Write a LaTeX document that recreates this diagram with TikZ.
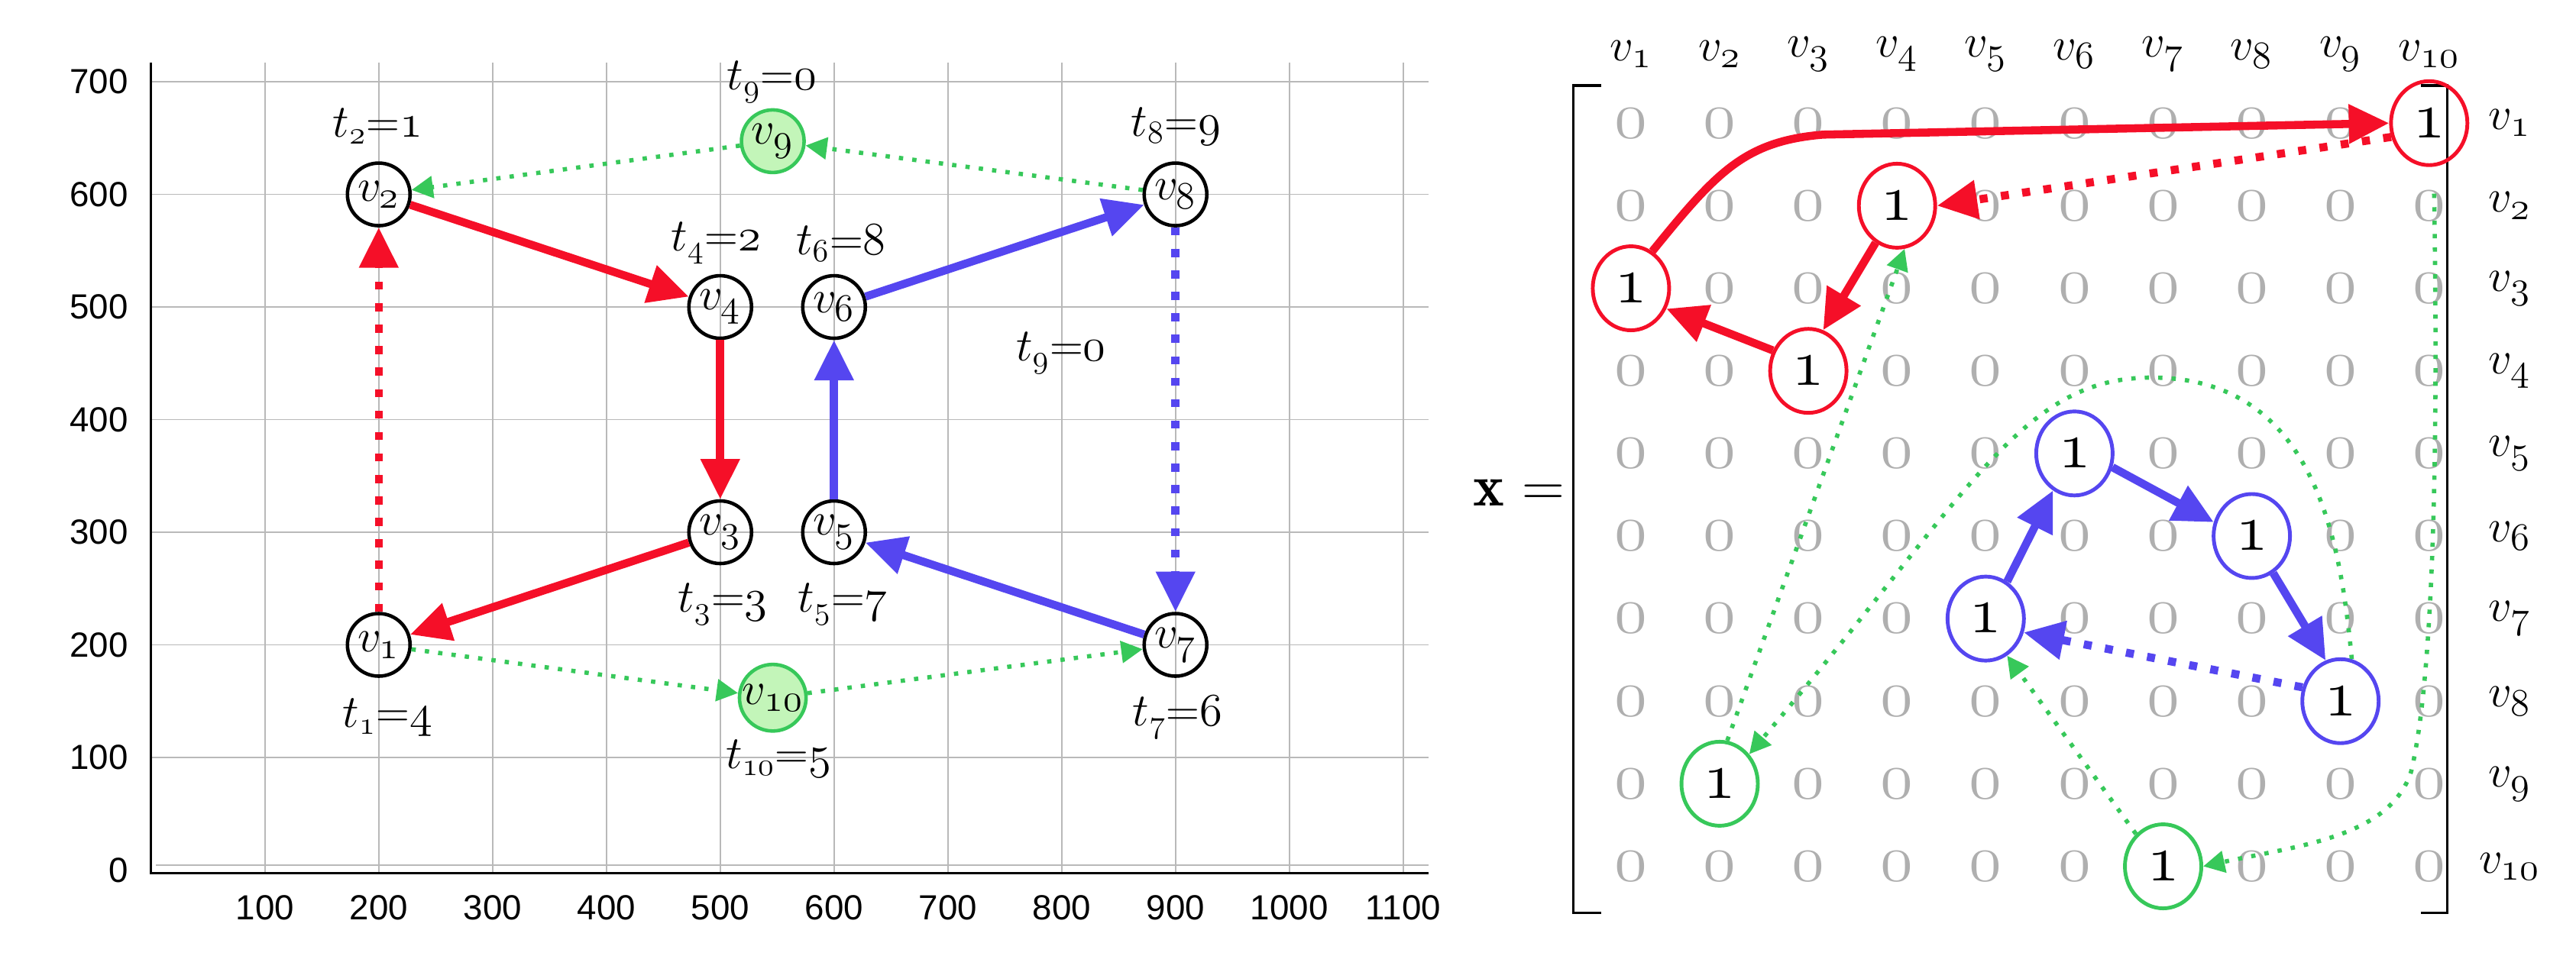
\documentclass[tikz,border=0pt]{standalone}
\usepackage{fontspec}
\newfontfamily\tickfont{Liberation Sans}
\usetikzlibrary{arrows.meta,shapes.geometric}
\definecolor{cred}{RGB}{245,15,40}
\definecolor{cblue}{RGB}{85,70,240}
\definecolor{cgreen}{RGB}{55,200,90}
\definecolor{lgreen}{RGB}{195,245,185}
\definecolor{zgray}{RGB}{175,175,175}
\newcommand\osn[1]{\ensuremath{\mathnormal{#1}}}
\begin{document}
\begin{tikzpicture}[x=0.0215cm,y=-0.0215cm,
  vnode/.style={circle,draw=black,line width=1.3pt,minimum size=0.82cm,inner sep=0pt,font=\fontsize{19}{22}\selectfont},
  gnode/.style={vnode,draw=cgreen,fill=lgreen},
  tlab/.style={font=\fontsize{17}{20}\selectfont,inner sep=1pt},
  tick/.style={font=\tickfont\fontsize{13}{15}\selectfont,inner sep=1pt},
  thick arrow/.style={line width=3pt,-{Triangle[length=15pt,width=14pt]}},
  dotthick/.style={line width=3pt,dash pattern=on 3pt off 5pt,-{Triangle[length=15pt,width=14pt]}},
  gdot/.style={cgreen,line width=1.6pt,dash pattern=on 1.6pt off 3.4pt,-{Triangle[length=8pt,width=8pt]}},
  zero/.style={text=zgray,font=\fontsize{25}{25}\selectfont,inner sep=0pt},
  one/.style={ellipse,line width=1.4pt,minimum width=1.0cm,minimum height=1.1cm,inner sep=0pt,font=\fontsize{27}{27}\selectfont},
  hlab/.style={font=\fontsize{19}{22}\selectfont,inner sep=0pt}]
\useasboundingbox (0,0) rectangle (1568.4,582.3);
% grid
\foreach \d in {100,200,...,1100} \draw[gray!55,line width=0.5pt] ({92+0.693*\d},38) -- ({92+0.693*\d},532);
\foreach \d in {100,200,...,700} \draw[gray!55,line width=0.5pt] (92,{530-0.686*\d}) -- (870,{530-0.686*\d});
\draw[gray!55,line width=0.5pt] (95,527) -- (870,527);
\draw[black,line width=0.8pt] (92,38) -- (92,532) -- (870,532);
\foreach \d in {0,100,...,700} \node[tick,anchor=east] (yl\d) at (80,{530-0.686*\d}) {\d};
\foreach \d in {100,200,...,1100} \node[tick] (xl\d) at ({92+0.693*\d},553) {\d};
% graph nodes
\node[vnode] (v1) at (230.6,392.8) {$v_{\osn{1}}$};
\node[vnode] (v2) at (230.6,118.4) {$v_{\osn{2}}$};
\node[vnode] (v4) at (438.5,187) {$v_{\osn{4}}$};
\node[vnode] (v6) at (507.8,187) {$v_{\osn{6}}$};
\node[vnode] (v3) at (438.5,324.2) {$v_{\osn{3}}$};
\node[vnode] (v5) at (507.8,324.2) {$v_{\osn{5}}$};
\node[vnode] (v7) at (715.7,392.8) {$v_{\osn{7}}$};
\node[vnode] (v8) at (715.7,118.4) {$v_{\osn{8}}$};
\node[gnode] (v9) at (470.5,86) {$v_{\osn{9}}$};
\node[gnode] (v10) at (470.5,425) {$v_{\osn{10}}$};
% t labels
\node[tlab] (t2) at (230,77) {$t_{\osn{2}}{=}\osn{1}$};
\node[tlab] (t9a) at (470,50) {$t_{\osn{9}}{=}\osn{0}$};
\node[tlab] (t8) at (716,77) {$t_{\osn{8}}{=}\osn{9}$};
\node[tlab] (t4) at (436,148) {$t_{\osn{4}}{=}\osn{2}$};
\node[tlab] (t6) at (512,148) {$t_{\osn{6}}{=}\osn{8}$};
\node[tlab] (t9b) at (646,215) {$t_{\osn{9}}{=}\osn{0}$};
\node[tlab] (t3) at (440,368) {$t_{\osn{3}}{=}\osn{3}$};
\node[tlab] (t5) at (513,368) {$t_{\osn{5}}{=}\osn{7}$};
\node[tlab] (t1) at (236,437) {$t_{\osn{1}}{=}\osn{4}$};
\node[tlab] (t10) at (474,462) {$t_{\osn{10}}{=}\osn{5}$};
\node[tlab] (t7) at (717,437) {$t_{\osn{7}}{=}\osn{6}$};
% graph edges
\draw[cred,thick arrow] (v2) -- (v4);
\draw[cred,thick arrow] (v4) -- (v3);
\draw[cred,thick arrow] (v3) -- (v1);
\draw[cred,dotthick] (v1) -- (v2);
\draw[cblue,thick arrow] (v7) -- (v5);
\draw[cblue,thick arrow] (v5) -- (v6);
\draw[cblue,thick arrow] (v6) -- (v8);
\draw[cblue,dotthick] (v8) -- (v7);
\draw[gdot] (v9) -- (v2);
\draw[gdot] (v8) -- (v9);
\draw[gdot] (v1) -- (v10);
\draw[gdot] (v10) -- (v7);
% matrix
\node[font=\fontsize{22}{24}\selectfont] (X) at (925,300) {$\mathbf{x}$ =};
\draw[line width=1pt] (975,52) -- (958,52) -- (958,556) -- (975,556);
\draw[line width=1pt] (1474,52) -- (1490,52) -- (1490,556) -- (1474,556);
\foreach \j in {1,...,10} {
  \node[hlab] (h\j) at ({993+54*(\j-1)},33) {$v_{\osn{\j}}$};
  \node[hlab] (r\j) at (1528,{75+50.3*(\j-1)}) {$v_{\osn{\j}}$};
}
\foreach \i/\c in {1/10,2/4,3/1,4/3,5/6,6/8,7/5,8/9,9/2,10/7} {
  \foreach \j in {1,...,10} {
    \ifnum\j=\c\else
      \node[zero] (z\i-\j) at ({993+54*(\j-1)},{75+50.3*(\i-1)}) {\osn{0}};
    \fi
  }
}
\foreach \i/\c/\col in {1/10/cred,2/4/cred,3/1/cred,4/3/cred,5/6/cblue,6/8/cblue,7/5/cblue,8/9/cblue,9/2/cgreen,10/7/cgreen}
  \node[one,draw=\col] (m\i) at ({993+54*(\c-1)},{75+50.3*(\i-1)}) {\osn{1}};
% matrix arrows
\draw[cred,line width=3pt,-{Triangle[length=15pt,width=14pt]}] (m3.60) .. controls (1045,105) and (1062,86) .. (1110,82) -- (m1.west);
\draw[cred,dotthick] (m1.200) -- (m2.east);
\draw[cred,thick arrow] (m2.240) -- (m4.70);
\draw[cred,thick arrow] (m4.150) -- (m3.-30);
\draw[cblue,thick arrow] (m7.60) -- (m5.240);
\draw[cblue,thick arrow] (m5.-20) -- (m6.160);
\draw[cblue,thick arrow] (m6.-60) -- (m8.110);
\draw[cblue,dotthick] (m8.160) -- (m7.-20);
\coordinate (gs) at (1482,118);
\draw[gdot] (gs) .. controls (1485,300) and (1480,420) .. (1468,470) .. controls (1455,510) and (1400,515) .. (m10.east);
\draw[gdot] (m10.130) -- (m7.-60);
\draw[gdot] (m8.75) .. controls (1425,330) and (1410,230) .. (1310,230) .. controls (1230,230) and (1200,300) .. (m9.45);
\draw[gdot] (m9.80) -- (m2.-80);
\end{tikzpicture}
\end{document}
